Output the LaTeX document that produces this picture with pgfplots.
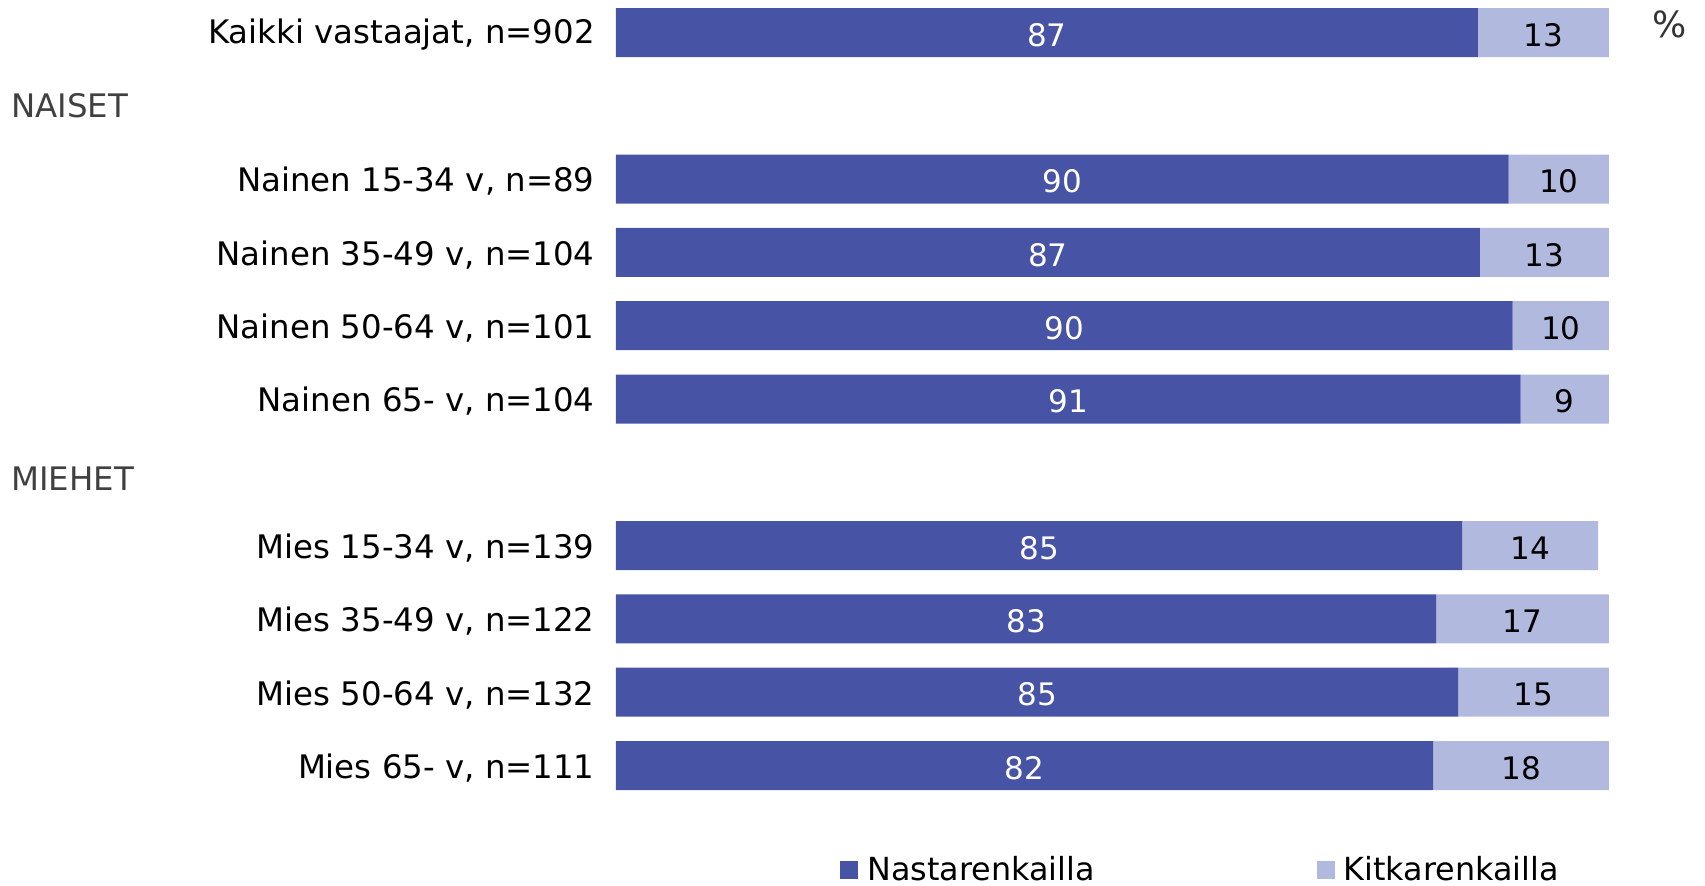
\documentclass[border=0pt]{standalone}
\usepackage{pgfplots}
\usepackage{pgfplotstable}
\pgfplotsset{compat=1.18}
\usepackage{fontspec}
\setmainfont{DejaVu Sans}

\definecolor{nasta}{RGB}{71,84,165}
\definecolor{kitka}{RGB}{177,185,223}

% row nasta kitka, label positions and printed values
\pgfplotstableread{
y  nasta kitka nx    kx    nl kl
0  86.8  13.2  43.40 93.40 87 13
2  89.9  10.1  44.95 94.95 90 10
3  87.0  13.0  43.50 93.50 87 13
4  90.3   9.7  45.15 95.15 90 10
5  91.1   8.9  45.55 95.55 91 9
7  85.2  13.7  42.60 92.05 85 14
8  82.6  17.4  41.30 91.30 83 17
9  84.8  15.2  42.40 92.40 85 15
10 82.3  17.7  41.15 91.15 82 18
}\data

\pgfplotsset{
  frame/.style={
    scale only axis,
    width=496.5pt, height=395.82pt,
    xmin=0, xmax=100,
    ymin=-0.4, ymax=10.4,
    y dir=reverse,
  },
}

\begin{document}
\begin{tikzpicture}
\useasboundingbox (-308pt,-45.09pt) rectangle (544.5pt,397.41pt);

\begin{axis}[
  frame,
  xbar stacked,
  bar width=24.5pt,
  axis line style={draw=none},
  tick style={draw=none},
  major tick length=0pt,
  xtick=\empty,
  ytick={0,2,3,4,5,7,8,9,10},
  yticklabels={Kaikki vastaajat{,} n=902,
    Nainen 15-34 v{,} n=89, Nainen 35-49 v{,} n=104,
    Nainen 50-64 v{,} n=101, Nainen 65- v{,} n=104,
    Mies 15-34 v{,} n=139, Mies 35-49 v{,} n=122,
    Mies 50-64 v{,} n=132, Mies 65- v{,} n=111},
  yticklabel style={font=\fontsize{16.2}{19}\selectfont, anchor=east,
    inner sep=0pt, xshift=-10.5pt, yshift=-1.2pt},
  legend columns=2,
  legend style={at={(0.2256,-0.095)}, anchor=west, draw=none, fill=none,
    inner sep=0pt, font=\fontsize{15.9}{18}\selectfont,
    nodes={inner sep=0pt},
    /tikz/every odd column/.append style={column sep=4.5pt},
    /tikz/every even column/.append style={column sep=111pt}},
]
\addplot[fill=nasta, draw=none,
  legend image code/.code={\fill[nasta] (0pt,-4.5pt) rectangle (9pt,4.5pt);}]
  table[x=nasta, y=y] {\data};
\addplot[fill=kitka, draw=none,
  legend image code/.code={\fill[kitka] (0pt,-4.5pt) rectangle (9pt,4.5pt);}]
  table[x=kitka, y=y] {\data};
\legend{Nastarenkailla, Kitkarenkailla}
\end{axis}

\begin{axis}[frame, hide axis]
\addplot[only marks, mark=none, nodes near coords, point meta=explicit symbolic,
  every node near coord/.append style={anchor=center, text=white, yshift=-1.2pt,
    font=\fontsize{15.5}{18}\selectfont}]
  table[x=nx, y=y, meta=nl] {\data};
\addplot[only marks, mark=none, nodes near coords, point meta=explicit symbolic,
  every node near coord/.append style={anchor=center, text=black, yshift=-1.2pt,
    font=\fontsize{15.5}{18}\selectfont}]
  table[x=kx, y=y, meta=kl] {\data};
\end{axis}

\node[anchor=west, inner sep=0pt, text=black!75, font=\fontsize{16.2}{19}\selectfont]
  at (-302.5pt,344.4pt) {NAISET};
\node[anchor=west, inner sep=0pt, text=black!75, font=\fontsize{16.2}{19}\selectfont]
  at (-302.5pt,157.9pt) {MIEHET};
\node[text=black!80, font=\fontsize{18}{21}\selectfont] at (527pt,385.4pt) {\%};
\end{tikzpicture}
\end{document}
